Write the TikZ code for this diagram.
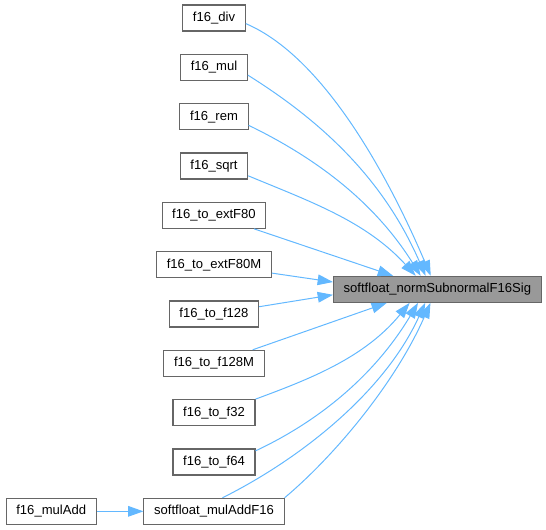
\documentclass[tikz,border=0pt]{standalone}
\usepackage{fontspec}
\setmainfont{Liberation Sans}
\usepackage{xcolor}
\usepackage{tikz}
\usetikzlibrary{arrows.meta,positioning,calc}
\definecolor{edgeblue}{HTML}{63B8FF}
\definecolor{boxline}{HTML}{666666}
\definecolor{focusbg}{HTML}{999999}

\begin{document}
\begin{tikzpicture}[
  every node/.style={font=\fontsize{9.8}{12}\selectfont},
  node distance=16.7pt,
  fnbox/.style={rectangle, draw=boxline, line width=0.8pt, fill=white, minimum height=19.5pt, inner xsep=7.6pt, inner ysep=2pt},
  focusbox/.style={fnbox, fill=focusbg},
  arrow/.style={-{Triangle[length=11.5pt, width=8pt]}, line width=0.75pt, draw=edgeblue}
]
\useasboundingbox (-160.5pt,13.5pt) rectangle (249pt,-384pt);

% callers
\node[fnbox] (div) at (0,0) {f16\_div};
\node[fnbox, below=of div] (mul) {f16\_mul};
\node[fnbox, below=of mul] (rem) {f16\_rem};
\node[fnbox, below=of rem] (sqrt) {f16\_sqrt};
\node[fnbox, below=of sqrt] (ext80) {f16\_to\_extF80};
\node[fnbox, below=of ext80] (ext80m) {f16\_to\_extF80M};
\node[fnbox, below=of ext80m] (f128) {f16\_to\_f128};
\node[fnbox, below=of f128] (f128m) {f16\_to\_f128M};
\node[fnbox, below=of f128m] (f32) {f16\_to\_f32};
\node[fnbox, below=of f32] (f64) {f16\_to\_f64};
\node[fnbox, below=of f64] (muladdsf) {softfloat\_mulAddF16};
\node[fnbox, left=35pt of muladdsf] (muladd) {f16\_mulAdd};

% callee
\coordinate (mid) at ($(ext80m)!0.5!(f128)$);
\node[focusbox, right=89.25pt of mid] (norm) {softfloat\_normSubnormalF16Sig};

\draw[arrow] (div.-10) .. controls +(60pt,-25.5pt) and +(-30pt,70.5pt) .. (norm.116.6);
\draw[arrow] (mul.-13) .. controls +(60pt,-37.5pt) and +(-30pt,69pt) .. (norm.131.5);
\draw[arrow] (rem.-14) .. controls +(52.5pt,-25.5pt) and +(-33.75pt,54pt) .. (norm.141.8);
\draw[arrow] (sqrt.-16) .. controls +(45pt,-18.75pt) and +(-37.5pt,41.25pt) .. (norm.148.8);
\draw[arrow] (ext80) -- (norm.163.4);
\draw[arrow] (ext80m) -- (norm.176.1);
\draw[arrow] (f128) -- (norm.183.9);
\draw[arrow] (f128m) -- (norm.195);
\draw[arrow] (f32.north east) .. controls +(40.5pt,15pt) and +(-33.75pt,-41.25pt) .. (norm.206);
\draw[arrow] (f64.15) .. controls +(48pt,22.5pt) and +(-32.25pt,-54pt) .. (norm.215);
\draw[arrow] (muladdsf.58) .. controls +(60pt,30pt) and +(-30pt,-66pt) .. (norm.228.5);
\draw[arrow] (muladdsf.north east) .. controls +(37.5pt,31.5pt) and +(-26.25pt,-60pt) .. (norm.243.4);
\draw[arrow] (muladd) -- (muladdsf);
\end{tikzpicture}
\end{document}
